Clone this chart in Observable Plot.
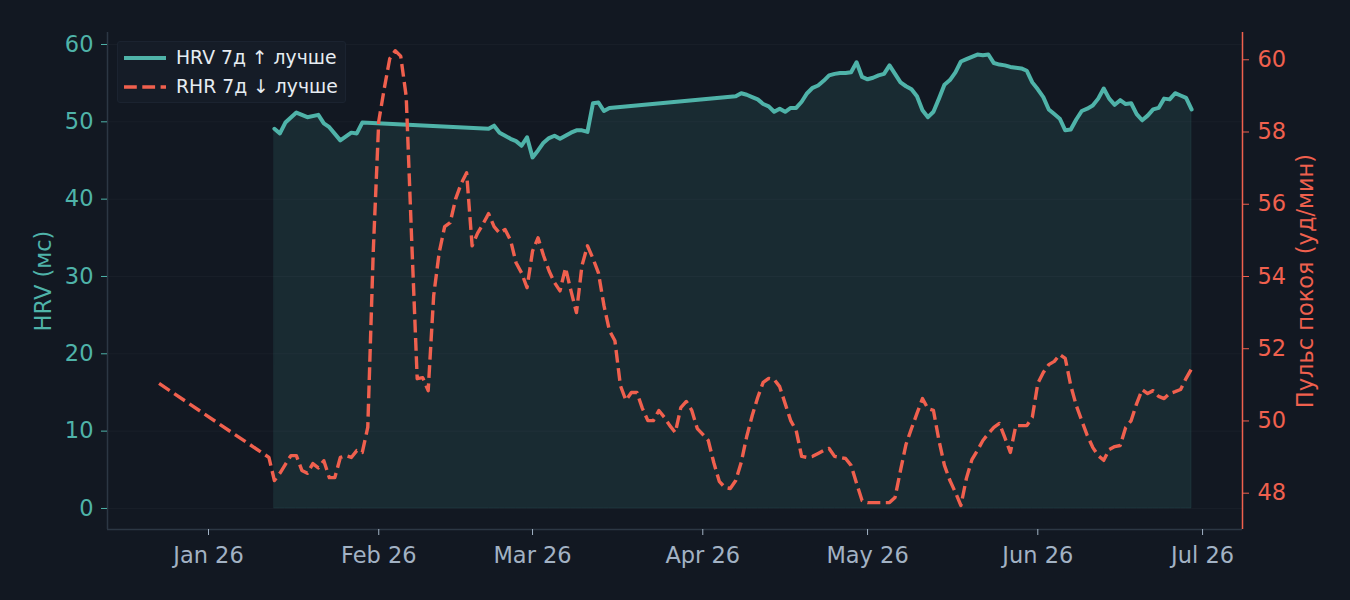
<!DOCTYPE html>
<html>
<head>
<meta charset="utf-8">
<script src="https://cdn.jsdelivr.net/npm/d3@7"></script>
<script src="https://cdn.jsdelivr.net/npm/@observablehq/plot@0.6"></script>
<style>
  html, body { margin: 0; padding: 0; background: #121822; }
  #wrap { position: relative; width: 1350px; height: 600px; background: #121822; font-family: "DejaVu Sans", sans-serif; }
  #legend { position: absolute; left: 117px; top: 41px; width: 229px; height: 62px; background: #151c27; border: 1px solid #1b2330; border-radius: 3px; box-sizing: border-box; }
  .lg-row { position: absolute; left: 0; height: 26px; width: 100%; }
  .lg-row svg { position: absolute; left: 4px; top: 0; }
  .lg-row span { position: absolute; left: 58px; top: 0px; font-size: 18.8px; color: #e6ecf2; white-space: nowrap; line-height: 24px; }
</style>
</head>
<body>
<div id="wrap">
  <div id="chart"></div>
  <div id="legend"></div>
</div>
<script>
// ---------- data ----------
const hrvDates = [
  "2026-01-13","2026-01-14","2026-01-15","2026-01-17","2026-01-19","2026-01-21","2026-01-22","2026-01-23","2026-01-25","2026-01-27","2026-01-28","2026-01-29",
  "2026-02-21","2026-02-22","2026-02-23","2026-02-24","2026-02-25","2026-02-26","2026-02-27","2026-02-28",
  "2026-03-01","2026-03-02","2026-03-03","2026-03-04","2026-03-05","2026-03-06","2026-03-07","2026-03-08","2026-03-09","2026-03-10","2026-03-11","2026-03-12","2026-03-13","2026-03-14","2026-03-15",
  "2026-04-07","2026-04-08","2026-04-09","2026-04-10","2026-04-11","2026-04-12","2026-04-13","2026-04-14","2026-04-15","2026-04-16","2026-04-17","2026-04-18","2026-04-19","2026-04-20","2026-04-21","2026-04-22","2026-04-23","2026-04-24","2026-04-25","2026-04-26","2026-04-27","2026-04-28","2026-04-29","2026-04-30",
  "2026-05-01","2026-05-02","2026-05-03","2026-05-04","2026-05-05","2026-05-06","2026-05-07","2026-05-08","2026-05-09","2026-05-10","2026-05-11","2026-05-12","2026-05-13","2026-05-14","2026-05-15","2026-05-16","2026-05-17","2026-05-18","2026-05-19","2026-05-20","2026-05-21","2026-05-22","2026-05-23","2026-05-24","2026-05-25","2026-05-26","2026-05-27","2026-05-28","2026-05-29","2026-05-30","2026-05-31",
  "2026-06-01","2026-06-02","2026-06-03","2026-06-04","2026-06-05","2026-06-06","2026-06-07","2026-06-08","2026-06-09","2026-06-10","2026-06-11","2026-06-12","2026-06-13","2026-06-14","2026-06-15","2026-06-16","2026-06-17","2026-06-18","2026-06-19","2026-06-20","2026-06-21","2026-06-22","2026-06-23","2026-06-24","2026-06-25","2026-06-26","2026-06-27","2026-06-28","2026-06-29"
];
const hrvValues = [
  49.1,48.5,49.9,51.2,50.6,50.9,49.8,49.3,47.6,48.6,48.5,49.9,
  49.1,49.5,48.6,48.2,47.8,47.5,46.9,48.0,
  45.4,46.3,47.3,47.9,48.2,47.8,48.2,48.6,48.9,48.9,48.7,52.4,52.5,51.4,51.8,
  53.3,53.7,53.5,53.2,52.9,52.3,52.0,51.3,51.7,51.3,51.8,51.8,52.6,53.7,54.4,54.7,55.3,56.0,56.2,56.3,56.3,56.4,57.7,55.8,
  55.5,55.7,56.0,56.2,57.3,56.2,55.1,54.6,54.2,53.3,51.5,50.6,51.3,53.0,54.8,55.4,56.4,57.8,58.1,58.4,58.7,58.6,58.7,57.6,57.4,57.3,57.1,57.0,56.9,56.6,55.1,
  54.2,53.2,51.6,51.0,50.4,48.9,49.0,50.3,51.4,51.7,52.1,53.0,54.3,53.0,52.2,52.8,52.3,52.4,51.0,50.2,50.8,51.6,51.8,53.0,52.9,53.7,53.4,53.1,51.6
];

const rhrDates = [
  "2025-12-23",
  "2026-01-12","2026-01-13","2026-01-14","2026-01-15","2026-01-16","2026-01-17","2026-01-18","2026-01-19","2026-01-20","2026-01-21","2026-01-22","2026-01-23","2026-01-24","2026-01-25","2026-01-26","2026-01-27","2026-01-28","2026-01-29","2026-01-30","2026-01-31",
  "2026-02-01","2026-02-02","2026-02-03","2026-02-04","2026-02-05","2026-02-06","2026-02-07","2026-02-08","2026-02-09","2026-02-10","2026-02-11","2026-02-12","2026-02-13","2026-02-14","2026-02-15","2026-02-16","2026-02-17","2026-02-18","2026-02-19","2026-02-20","2026-02-21","2026-02-22","2026-02-23","2026-02-24","2026-02-25","2026-02-26","2026-02-27","2026-02-28",
  "2026-03-01","2026-03-02","2026-03-03","2026-03-04","2026-03-05","2026-03-06","2026-03-07","2026-03-08","2026-03-09","2026-03-10","2026-03-11","2026-03-12","2026-03-13","2026-03-14","2026-03-15","2026-03-16","2026-03-17","2026-03-18","2026-03-19","2026-03-20","2026-03-21","2026-03-22","2026-03-23","2026-03-24","2026-03-25","2026-03-26","2026-03-27","2026-03-28","2026-03-29","2026-03-30","2026-03-31",
  "2026-04-01","2026-04-02","2026-04-03","2026-04-04","2026-04-05","2026-04-06","2026-04-07","2026-04-08","2026-04-09","2026-04-10","2026-04-11","2026-04-12","2026-04-13","2026-04-14","2026-04-15","2026-04-16","2026-04-17","2026-04-18","2026-04-19","2026-04-20","2026-04-21","2026-04-22","2026-04-23","2026-04-24","2026-04-25","2026-04-26","2026-04-27","2026-04-28","2026-04-29","2026-04-30",
  "2026-05-01","2026-05-02","2026-05-03","2026-05-04","2026-05-05","2026-05-06","2026-05-07","2026-05-08","2026-05-09","2026-05-10","2026-05-11","2026-05-12","2026-05-13","2026-05-14","2026-05-15","2026-05-16","2026-05-17","2026-05-18","2026-05-19","2026-05-20","2026-05-21","2026-05-22","2026-05-23","2026-05-24","2026-05-25","2026-05-26","2026-05-27","2026-05-28","2026-05-29","2026-05-30","2026-05-31",
  "2026-06-01","2026-06-02","2026-06-03","2026-06-04","2026-06-05","2026-06-06","2026-06-07","2026-06-08","2026-06-09","2026-06-10","2026-06-11","2026-06-12","2026-06-13","2026-06-14","2026-06-15","2026-06-16","2026-06-17","2026-06-18","2026-06-19","2026-06-20","2026-06-21","2026-06-22","2026-06-23","2026-06-24","2026-06-25","2026-06-26","2026-06-27","2026-06-28","2026-06-29"
];
const rhrValues = [
  51.04,
  48.99,48.35,48.55,48.80,49.04,49.04,48.63,48.55,48.82,48.70,48.90,48.43,48.43,48.99,49.04,48.99,49.18,49.13,49.82,54.70,
  58.30,59.20,60.03,60.25,60.10,58.98,54.99,51.17,51.20,50.84,53.47,54.66,55.38,55.49,56.15,56.57,56.87,54.85,55.20,55.46,55.74,55.38,55.20,55.30,55.00,54.38,54.10,53.69,
  54.70,55.07,54.58,54.16,53.83,53.60,54.24,53.60,53.00,54.30,54.85,54.50,54.10,53.20,52.50,52.22,50.98,50.57,50.79,50.79,50.35,50.01,50.01,50.29,50.10,49.87,49.68,50.37,50.54,50.29,49.79,
  49.63,49.46,48.85,48.33,48.16,48.13,48.35,48.85,49.57,50.15,50.65,51.07,51.18,51.15,50.95,50.48,50.01,49.74,49.02,48.99,49.02,49.10,49.18,49.24,49.02,48.99,48.96,48.77,48.27,47.80,
  47.74,47.74,47.74,47.74,47.74,47.88,48.63,49.35,49.79,50.21,50.62,50.34,50.29,49.46,48.77,48.35,48.02,47.66,48.41,48.93,49.18,49.46,49.65,49.82,49.93,49.54,49.13,49.87,49.87,49.87,50.10,
  51.04,51.34,51.56,51.65,51.84,51.73,50.98,50.43,50.01,49.60,49.27,49.04,48.91,49.21,49.29,49.32,49.82,50.01,50.48,50.87,50.76,50.84,50.68,50.62,50.76,50.81,50.87,51.18,51.45
];

const hrvTicks = [0, 10, 20, 30, 40, 50, 60];
const rhrTicks = [48, 50, 52, 54, 56, 58, 60];
const monthTicks = ["2026-01-01","2026-02-01","2026-03-01","2026-04-01","2026-05-01","2026-06-01","2026-07-01"];

const labelHRV = "HRV (мс)";
const labelRHR = "Пульс покоя (уд/мин)";
const legendHRV = "HRV 7д ↑ лучше";
const legendRHR = "RHR 7д ↓ лучше";

// ---------- scales ----------
const teal = "#4fb3a9";
const red = "#f0604e";
const spine = "#2c3744";
const dash = "12.8,5.5";
const xDomain = [new Date("2025-12-13T14:38:00Z"), new Date("2026-07-08T06:29:00Z")];
const hrvDomain = [-2.72, 61.55];
const rhrDomain = [46.995, 60.755];
const toH = r => hrvDomain[0] + (r - rhrDomain[0]) * (hrvDomain[1] - hrvDomain[0]) / (rhrDomain[1] - rhrDomain[0]);
const fromH = h => rhrDomain[0] + (h - hrvDomain[0]) * (rhrDomain[1] - rhrDomain[0]) / (hrvDomain[1] - hrvDomain[0]);

const hrv = hrvDates.map((d, i) => ({date: new Date(d), value: hrvValues[i]}));
const rhr = rhrDates.map((d, i) => ({date: new Date(d), value: rhrValues[i]}));

const FS = 22.5;
const chart = Plot.plot({
  width: 1350,
  height: 600,
  marginLeft: 107,
  marginRight: 108,
  marginTop: 32,
  marginBottom: 71,
  style: {background: "#121822", fontFamily: "DejaVu Sans", fontSize: FS + "px", overflow: "visible"},
  x: {type: "utc", domain: xDomain},
  y: {domain: hrvDomain},
  marks: [
    Plot.ruleY(hrvTicks, {stroke: "#ffffff", strokeOpacity: 0.03, strokeWidth: 1}),
    Plot.areaY(hrv, {x: "date", y: "value", fill: teal, fillOpacity: 0.12, stroke: teal, strokeOpacity: 0.1, strokeWidth: 1, curve: "linear"}),
    Plot.lineY(hrv, {x: "date", y: "value", stroke: teal, strokeWidth: 4, strokeLinejoin: "round", strokeLinecap: "round"}),
    Plot.lineY(rhr, {x: "date", y: d => toH(d.value), stroke: red, strokeWidth: 3.4, strokeDasharray: dash, strokeLinecap: "butt", strokeLinejoin: "round"}),
    Plot.ruleX([xDomain[0]], {stroke: spine, strokeWidth: 1.5}),
    Plot.ruleY([hrvDomain[0]], {stroke: spine, strokeWidth: 1.5}),
    Plot.ruleX([xDomain[1]], {stroke: red, strokeWidth: 1.5}),
    Plot.axisY(hrvTicks, {anchor: "left", tickSize: 6, tickPadding: 8, color: teal, fontSize: FS, label: null}),
    Plot.axisY(rhrTicks.map(toH), {anchor: "right", tickSize: 6, tickPadding: 9, color: red, fontSize: FS, label: null, tickFormat: v => String(Math.round(fromH(v)))}),
    Plot.axisX(monthTicks.map(d => new Date(d)), {anchor: "bottom", tickSize: 6, tickPadding: 12, color: "#a2b2c4", fontSize: FS, label: null, tickFormat: d3.utcFormat("%b %y")}),
    Plot.text([labelHRV], {frameAnchor: "left", dx: -64, rotate: -90, textAnchor: "middle", lineAnchor: "middle", fill: teal, fontSize: FS}),
    Plot.text([labelRHR], {frameAnchor: "right", dx: 63, rotate: -90, textAnchor: "middle", lineAnchor: "middle", fill: red, fontSize: FS})
  ]
});
document.getElementById("chart").appendChild(chart);

// ---------- legend ----------
const legend = document.getElementById("legend");
[[legendHRV, teal, null, 4, 4], [legendRHR, red, dash, 3.4, 33]].forEach(([label, color, da, w, top]) => {
  const row = document.createElement("div");
  row.className = "lg-row";
  row.style.top = top + "px";
  row.innerHTML = `<svg width="50" height="24"><line x1="2" x2="44" y1="12" y2="12" stroke="${color}" stroke-width="${w}" ${da ? `stroke-dasharray="${da}"` : ""}/></svg><span>${label}</span>`;
  legend.appendChild(row);
});
</script>
</body>
</html>
